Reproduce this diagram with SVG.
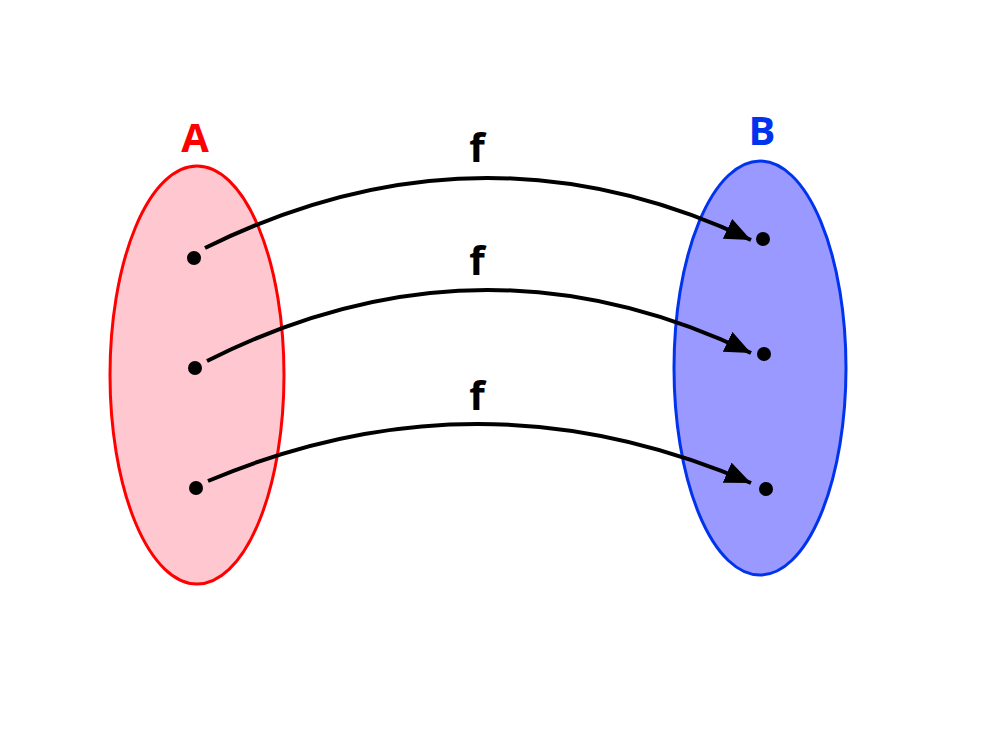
<svg xmlns="http://www.w3.org/2000/svg" width="1000" height="750" viewBox="0 0 1000 750">
<defs>
<style>
.lbl{font-family:"Open Sans","DejaVu Sans",sans-serif;font-weight:bold;font-size:40px;text-anchor:middle}
.dot{fill:#000}
.edge{fill:none;stroke:#000;stroke-width:4}
</style>
<marker id="arr" markerUnits="userSpaceOnUse" markerWidth="30" markerHeight="24" refX="26" refY="11" orient="auto">
<path d="M0,0 L26,11 L0,22 Z" fill="#000"/>
</marker>
</defs>
<rect width="1000" height="750" fill="#fff"/>
<g id="setA">
<ellipse cx="197" cy="375" rx="87" ry="209" fill="#ffc8d0" stroke="#ff0000" stroke-width="3"/>
<text class="lbl" x="195" y="152" fill="#ff0000">A</text>
</g>
<g id="setB">
<ellipse cx="760" cy="368" rx="86" ry="207" fill="#9999ff" stroke="#0033ee" stroke-width="3"/>
<text class="lbl" x="762" y="145" fill="#0033ee">B</text>
</g>
<g id="a1"><circle class="dot" cx="194" cy="258" r="7"/></g>
<g id="a2"><circle class="dot" cx="195" cy="368" r="7"/></g>
<g id="a3"><circle class="dot" cx="196" cy="488" r="7"/></g>
<g id="b1"><circle class="dot" cx="763" cy="239" r="7"/></g>
<g id="b2"><circle class="dot" cx="764" cy="354" r="7"/></g>
<g id="b3"><circle class="dot" cx="766" cy="489" r="7"/></g>
<g id="connectors">
<path class="edge" d="M205,248 Q480,112 751,240" marker-end="url(#arr)"/>
<path class="edge" d="M207,361 Q480,223 751,353" marker-end="url(#arr)"/>
<path class="edge" d="M208,481 Q480,366 751,483" marker-end="url(#arr)"/>
<text class="lbl" x="477" y="162">f</text>
<text class="lbl" x="477" y="275">f</text>
<text class="lbl" x="477" y="410">f</text>
</g>
</svg>
